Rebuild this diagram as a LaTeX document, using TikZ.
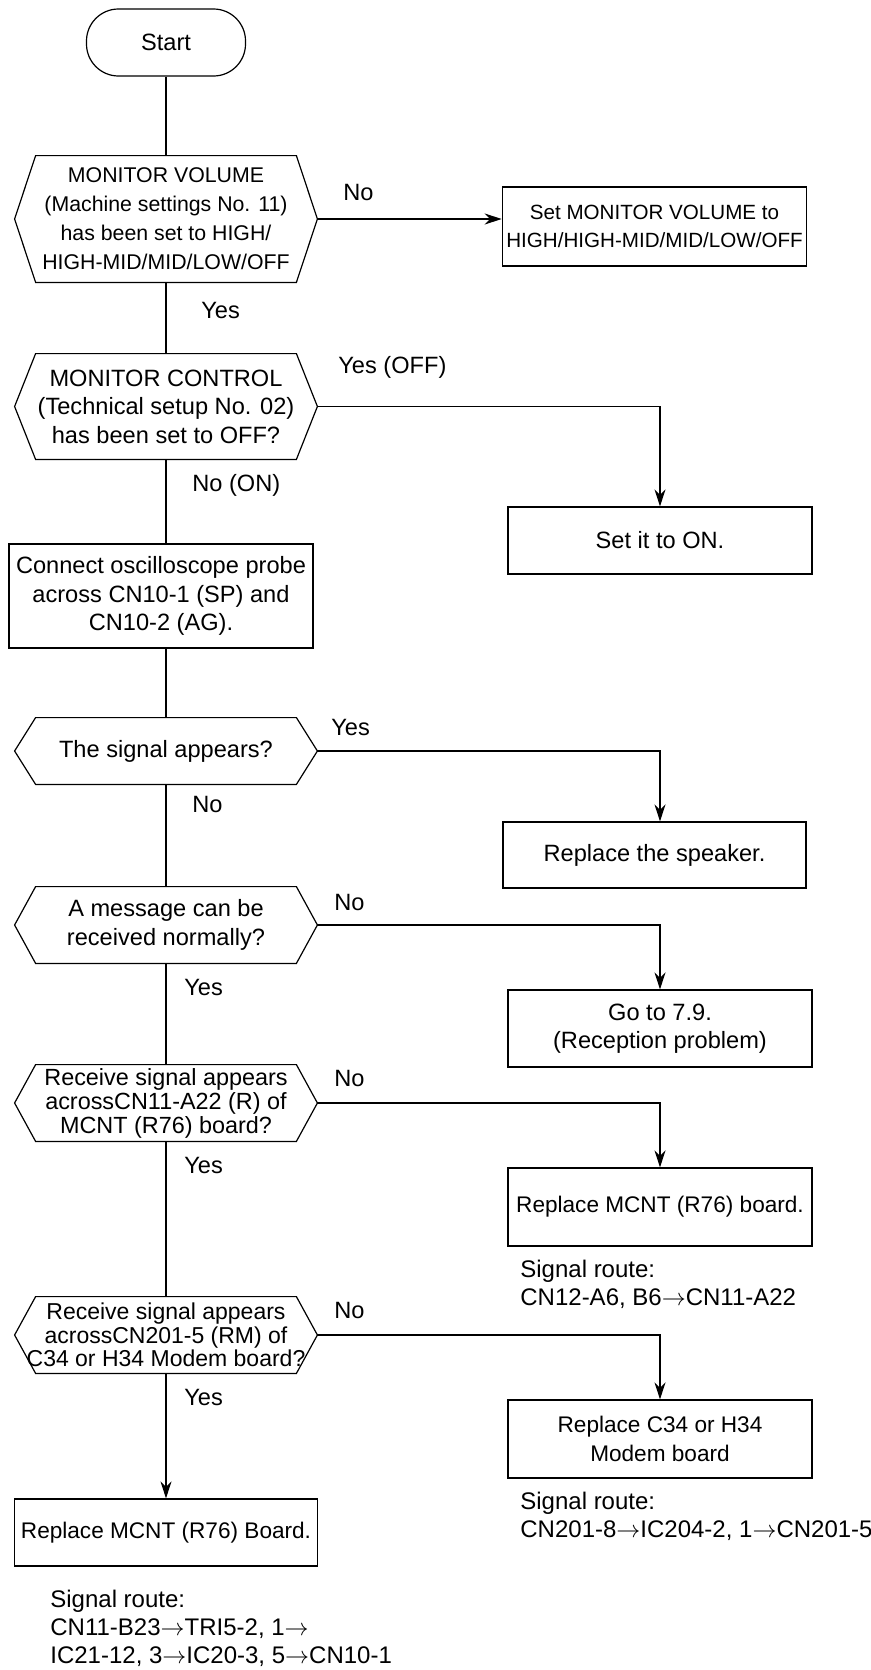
\documentclass[tikz,border=0pt]{standalone}
\usepackage{fontspec}
\setmainfont{Liberation Sans}
\usetikzlibrary{arrows.meta}

\newcommand{\sigto}{\ensuremath{\rightarrow}}

\begin{document}
\begin{tikzpicture}[
    x=50pt, y=50pt,
    >={Stealth[length=8.5pt, width=5.5pt]},
    every node/.style={
        font=\fontsize{11.8}{14.2}\selectfont
    },
    terminal/.style={
        rectangle,
        rounded corners=16pt,
        draw=black,
        line width=0.6pt,
        minimum width=79.5pt,
        minimum height=33.5pt,
        align=center
    },
    decision/.style={
        rectangle,
        minimum width=151pt,
        inner xsep=2pt,
        inner ysep=1pt,
        align=center,
        append after command={
            \pgfextra{
                \draw[line width=0.6pt]
                    ([xshift=10.5pt]\tikzlastnode.north west)
                    -- ([xshift=-10.5pt]\tikzlastnode.north east)
                    -- (\tikzlastnode.east)
                    -- ([xshift=-10.5pt]\tikzlastnode.south east)
                    -- ([xshift=10.5pt]\tikzlastnode.south west)
                    -- (\tikzlastnode.west) -- cycle;
            }
        }
    },
    action/.style={
        rectangle,
        draw=black,
        line width=0.6pt,
        minimum width=152pt,
        inner sep=2pt,
        align=center
    },
    answer/.style={
        anchor=west,
        inner sep=0pt
    },
    route/.style={
        anchor=west,
        inner sep=0pt,
        align=left,
        font=\fontsize{12}{14}\selectfont
    },
    link/.style={
        -,
        line width=0.6pt
    },
    flow/.style={
        ->,
        line width=0.6pt
    }
]

\useasboundingbox (0, 0) rectangle (8.71, -16.70);

% =============== MAIN COLUMN ===============

\node[terminal] (start) at (1.66, -0.425) {Start};

\node[decision, minimum height=63pt, font=\fontsize{10.65}{14.5}\selectfont] (volq) at (1.66, -2.19)
    {MONITOR VOLUME\\(Machine settings No. 11)\\has been set to HIGH/\\HIGH-MID/MID/LOW/OFF};
\node[decision, minimum height=52.5pt] (ctrlq) at (1.66, -4.065)
    {MONITOR CONTROL\\(Technical setup No. 02)\\has been set to OFF?};
\node[action, minimum height=52pt] (probe) at (1.61, -5.96)
    {Connect oscilloscope probe\\across CN10-1 (SP) and\\CN10-2 (AG).};
\node[decision, minimum height=33pt] (sigq) at (1.66, -7.51) {The signal appears?};
\node[decision, minimum height=38pt] (msgq) at (1.66, -9.25)
    {A message can be\\received normally?};
\node[decision, minimum height=38pt, font=\fontsize{11.7}{12}\selectfont] (rcvq) at (1.66, -11.03)
    {Receive signal appears\\acrossCN11-A22 (R) of\\MCNT (R76) board?};
\node[decision, minimum height=38pt, font=\fontsize{11.5}{11.7}\selectfont] (modq) at (1.66, -13.35)
    {Receive signal appears\\acrossCN201-5 (RM) of\\C34 or H34 Modem board?};
\node[action, minimum width=151.5pt, minimum height=33.5pt, font=\fontsize{11.3}{14.2}\selectfont] (mcntfinal) at (1.66, -15.325)
    {Replace MCNT (R76) Board.};
\node[route] (route_final) at (0.50, -16.28)
    {Signal route:\\CN11-B23\sigto TRI5-2, 1\sigto\\IC21-12, 3\sigto IC20-3, 5\sigto CN10-1};

% =============== RIGHT COLUMN ===============

\coordinate (rcol) at (6.60, 0);

\node[action, minimum width=151.5pt, minimum height=39.5pt, font=\fontsize{10.3}{14.2}\selectfont] (volset) at (6.545, -2.265)
    {Set MONITOR VOLUME to\\HIGH/HIGH-MID/MID/LOW/OFF};
\node[action, minimum height=33.5pt] (onset) at (6.60, -5.405) {Set it to ON.};
\node[action, minimum width=151.5pt, minimum height=33pt] (spkset) at (6.545, -8.55) {Replace the speaker.};
\node[action, minimum height=38.5pt] (recvset) at (6.60, -10.285)
    {Go to 7.9.\\(Reception problem)};
\node[action, minimum height=39pt, font=\fontsize{11.3}{14.2}\selectfont] (mcntset) at (6.60, -12.07)
    {Replace MCNT (R76) board.};
\node[route] (route_mcnt) at (5.20, -12.84) {Signal route:\\CN12-A6, B6\sigto CN11-A22};
\node[action, minimum height=39pt, font=\fontsize{11.3}{14.2}\selectfont] (modset) at (6.60, -14.39)
    {Replace C34 or H34\\Modem board};
\node[route] (route_mod) at (5.20, -15.16) {Signal route:\\CN201-8\sigto IC204-2, 1\sigto CN201-5};

% =============== CONNECTORS ===============

\draw[link] (start.south) -- (volq.north);
\draw[flow] (volq.east) -- (volq.east -| volset.west);
\draw[link] (volq.south) -- (ctrlq.north);
\draw[flow] (ctrlq.east) -| (onset.north);
\draw[link] (ctrlq.south) -- (ctrlq.south |- probe.north);
\draw[link] (sigq.north |- probe.south) -- (sigq.north);
\draw[flow] (sigq.east) -| (rcol |- spkset.north);
\draw[link] (sigq.south) -- (msgq.north);
\draw[flow] (msgq.east) -| (recvset.north);
\draw[link] (msgq.south) -- (rcvq.north);
\draw[flow] (rcvq.east) -| (mcntset.north);
\draw[link] (rcvq.south) -- (modq.north);
\draw[flow] (modq.east) -| (modset.north);
\draw[flow] (modq.south) -- (mcntfinal.north);

% =============== ANSWERS ===============

\node[answer] (ans_vol_no)   at (3.43, -1.92)  {No};
\node[answer] (ans_vol_yes)  at (2.01, -3.10)  {Yes};
\node[answer] (ans_ctrl_yes) at (3.38, -3.67)  {Yes (OFF)};
\node[answer] (ans_ctrl_no)  at (1.92, -4.85)  {No (ON)};
\node[answer] (ans_sig_yes)  at (3.31, -7.27)  {Yes};
\node[answer] (ans_sig_no)   at (1.92, -8.04)  {No};
\node[answer] (ans_msg_no)   at (3.34, -9.02)  {No};
\node[answer] (ans_msg_yes)  at (1.84, -9.87)  {Yes};
\node[answer] (ans_rcv_no)   at (3.34, -10.78) {No};
\node[answer] (ans_rcv_yes)  at (1.84, -11.65) {Yes};
\node[answer] (ans_mod_no)   at (3.34, -13.10) {No};
\node[answer] (ans_mod_yes)  at (1.84, -13.97) {Yes};

\end{tikzpicture}
\end{document}
